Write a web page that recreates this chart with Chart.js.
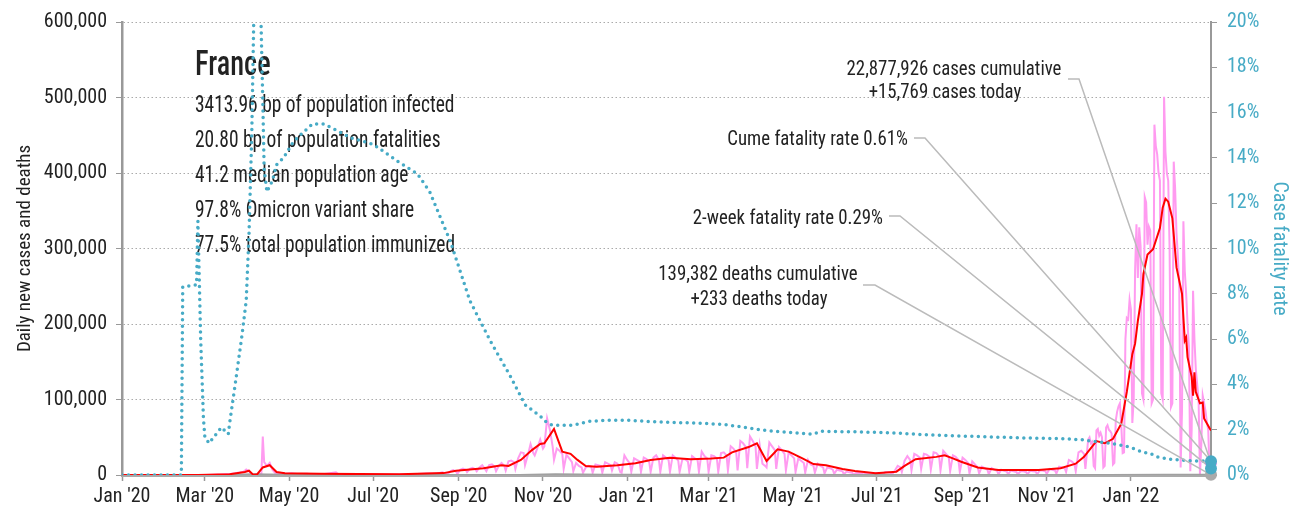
<!DOCTYPE html>
<html>
<head>
<meta charset="utf-8">
<script src="https://cdn.jsdelivr.net/npm/chart.js@4.4.1/dist/chart.umd.min.js"></script>
<style>html,body{margin:0;padding:0;background:#fff}</style>
</head>
<body>
<canvas id="chart" width="1291" height="518"></canvas>
<script>
// ---- data ----
const countryName = 'France'
const infoLines = [
  '3413.96 bp of population infected',
  '20.80 bp of population fatalities',
  '41.2 median population age',
  '97.8% Omicron variant share',
  '77.5% total population immunized'
]
const lastDate = '2022-02-28'
const cumCases = 22877926, todayCases = 15769
const cumDeaths = 139382, todayDeaths = 233
const cumeCfr = 0.61, twoWeekCfr = 0.29

const tickDates = ['2020-01-01','2020-03-01','2020-05-01','2020-07-01','2020-09-01','2020-11-01',
  '2021-01-01','2021-03-01','2021-05-01','2021-07-01','2021-09-01','2021-11-01','2022-01-01']
const tickLabels = ["Jan '20","Mar '20","May '20","Jul '20","Sep '20","Nov '20",
  "Jan '21","Mar '21","May '21","Jul '21","Sep '21","Nov '21","Jan '22"]

// daily new cases, thousands
const newCasesK = [
  ['2020-01-01',0],['2020-02-26',0],['2020-03-02',0.1],['2020-03-07',0.3],['2020-03-11',0.5],['2020-03-14',0.9],
  ['2020-03-17',1.2],['2020-03-20',1.6],['2020-03-23',2.4],['2020-03-26',3.2],['2020-03-29',4.4],['2020-03-31',7.2],
  ['2020-04-02',4.8],['2020-04-04',1],['2020-04-06',0],['2020-04-09',0.5],['2020-04-11',2],['2020-04-12',51],
  ['2020-04-13',17],['2020-04-15',12],['2020-04-17',16],['2020-04-19',7],['2020-04-21',2.5],['2020-04-25',2],
  ['2020-04-29',1.5],['2020-05-03',2.2],['2020-05-08',1],['2020-05-14',1.5],['2020-05-20',0.5],['2020-05-27',1.2],
  ['2020-06-04',3.5],['2020-06-06',0.6],['2020-06-14',1],['2020-06-21',0.5],['2020-06-28',0.8],['2020-07-05',0.5],
  ['2020-07-12',0.8],['2020-07-19',0.6],['2020-07-26',1.1],['2020-08-02',1.4],['2020-08-09',2],['2020-08-16',1.8],
  ['2020-08-20',3.5],
  ['2020-08-24',1.5],['2020-08-26',5],['2020-08-28',6.5],['2020-08-30',4.5],
  ['2020-08-31',1.5],['2020-09-02',7],['2020-09-04',8.5],['2020-09-06',7],
  ['2020-09-07',4],['2020-09-09',8],['2020-09-11',9.5],['2020-09-13',7.5],
  ['2020-09-14',5],['2020-09-16',10],['2020-09-18',13],['2020-09-20',8],
  ['2020-09-21',5],['2020-09-23',13],['2020-09-25',14],['2020-09-27',11],
  ['2020-09-28',5],['2020-09-30',12],['2020-10-02',16],['2020-10-04',12],
  ['2020-10-05',6],['2020-10-07',18],['2020-10-09',19],['2020-10-11',17],
  ['2020-10-12',8],['2020-10-14',22],['2020-10-16',30],['2020-10-18',29],
  ['2020-10-19',13],['2020-10-21',26],['2020-10-23',41],['2020-10-25',29],
  ['2020-10-26',26],['2020-10-28',36],['2020-10-30',47],['2020-11-01',35],
  ['2020-11-02',38],['2020-11-04',75],['2020-11-06',60],['2020-11-08',38],
  ['2020-11-09',20],['2020-11-11',35],['2020-11-13',32],['2020-11-15',28],
  ['2020-11-16',8],['2020-11-18',27],['2020-11-20',22],['2020-11-22',17],
  ['2020-11-23',5],['2020-11-25',16],['2020-11-27',12],['2020-11-29',10],
  ['2020-11-30',3],['2020-12-02',10],['2020-12-04',12],['2020-12-06',11],
  ['2020-12-07',3],['2020-12-09',14],['2020-12-11',13],['2020-12-13',12],
  ['2020-12-14',3],['2020-12-16',17],['2020-12-18',15],['2020-12-20',13],
  ['2020-12-21',6],['2020-12-23',17],['2020-12-25',15],['2020-12-27',4],
  ['2020-12-28',3],['2020-12-30',26],['2021-01-01',20],['2021-01-03',15],
  ['2021-01-04',4],['2021-01-06',22],['2021-01-08',20],['2021-01-10',18],
  ['2021-01-11',4],['2021-01-13',23],['2021-01-15',21],['2021-01-17',17],
  ['2021-01-18',4],['2021-01-20',23],['2021-01-22',26],['2021-01-24',20],
  ['2021-01-25',4],['2021-01-27',26],['2021-01-29',23],['2021-01-31',20],
  ['2021-02-01',4],['2021-02-03',26],['2021-02-05',23],['2021-02-07',19],
  ['2021-02-08',4],['2021-02-10',21],['2021-02-12',21],['2021-02-14',18],
  ['2021-02-15',4],['2021-02-17',25],['2021-02-19',22],['2021-02-21',20],
  ['2021-02-22',4],['2021-02-24',31],['2021-02-26',25],['2021-02-28',22],
  ['2021-03-01',4],['2021-03-03',26],['2021-03-05',25],['2021-03-07',22],
  ['2021-03-08',4],['2021-03-10',29],['2021-03-12',30],['2021-03-14',26],
  ['2021-03-15',6],['2021-03-17',38],['2021-03-19',35],['2021-03-21',30],
  ['2021-03-22',6],['2021-03-24',45],['2021-03-26',42],['2021-03-28',37],
  ['2021-03-29',9],['2021-03-31',51],['2021-04-02',45],['2021-04-04',38],
  ['2021-04-05',8],['2021-04-07',40],['2021-04-09',15],['2021-04-11',12],
  ['2021-04-12',10],['2021-04-14',43],['2021-04-16',38],['2021-04-18',33],
  ['2021-04-19',8],['2021-04-21',37],['2021-04-23',33],['2021-04-25',28],
  ['2021-04-26',6],['2021-04-28',30],['2021-04-30',26],['2021-05-02',22],
  ['2021-05-03',4],['2021-05-05',22],['2021-05-07',19],['2021-05-09',16],
  ['2021-05-10',3],['2021-05-12',20],['2021-05-14',14],['2021-05-16',12],
  ['2021-05-17',3],['2021-05-19',15],['2021-05-21',12],['2021-05-23',10],
  ['2021-05-24',2],['2021-05-26',10],['2021-05-28',9],['2021-05-30',7],
  ['2021-05-31',1.5],['2021-06-02',7],['2021-06-04',6],['2021-06-06',5],
  ['2021-06-07',1],['2021-06-09',4.5],['2021-06-11',3.5],['2021-06-13',3],
  ['2021-06-14',0.5],['2021-06-16',3],['2021-06-18',2.5],['2021-06-20',2],
  ['2021-06-21',0.4],['2021-06-23',2.5],['2021-06-25',2],['2021-06-27',1.8],
  ['2021-06-28',0.5],['2021-06-30',2.5],['2021-07-02',2.5],['2021-07-04',2],
  ['2021-07-05',0.6],['2021-07-07',4],['2021-07-09',3.5],['2021-07-11',3],
  ['2021-07-12',1],['2021-07-14',6],['2021-07-16',12],['2021-07-18',10],
  ['2021-07-19',4],['2021-07-21',19],['2021-07-23',25],['2021-07-25',20],
  ['2021-07-26',6],['2021-07-28',28],['2021-07-30',26],['2021-08-01',23],
  ['2021-08-02',8],['2021-08-04',28],['2021-08-06',27],['2021-08-08',24],
  ['2021-08-09',7],['2021-08-11',30],['2021-08-13',29],['2021-08-15',25],
  ['2021-08-16',6],['2021-08-18',32],['2021-08-20',28],['2021-08-22',24],
  ['2021-08-23',5],['2021-08-25',26],['2021-08-27',24],['2021-08-29',20],
  ['2021-08-30',4],['2021-09-01',23],['2021-09-03',20],['2021-09-05',16],
  ['2021-09-06',2],['2021-09-08',18],['2021-09-10',14],['2021-09-12',10],
  ['2021-09-13',2],['2021-09-15',11],['2021-09-17',9],['2021-09-19',7],
  ['2021-09-20',1],['2021-09-22',9],['2021-09-24',7],['2021-09-26',5.5],
  ['2021-09-27',1],['2021-09-29',7],['2021-10-01',5.5],['2021-10-03',4.5],
  ['2021-10-04',1],['2021-10-06',6],['2021-10-08',5],['2021-10-10',4],
  ['2021-10-11',1],['2021-10-13',5],['2021-10-15',5],['2021-10-17',4],
  ['2021-10-18',1],['2021-10-20',5.5],['2021-10-22',5],['2021-10-24',4.5],
  ['2021-10-25',1],['2021-10-27',6],['2021-10-29',6],['2021-10-31',5],
  ['2021-11-01',1.5],['2021-11-03',8],['2021-11-05',7],['2021-11-07',6],
  ['2021-11-08',2],['2021-11-10',11],['2021-11-12',10],['2021-11-14',9],
  ['2021-11-15',4],['2021-11-17',20],['2021-11-19',18],['2021-11-21',15],
  ['2021-11-22',5],['2021-11-24',30],['2021-11-26',32],['2021-11-28',28],
  ['2021-11-29',8],
  ['2021-12-01',47],['2021-12-02',50],['2021-12-03',42],['2021-12-04',44],['2021-12-05',12],['2021-12-06',9],
  ['2021-12-07',59],['2021-12-08',61],['2021-12-09',52],['2021-12-10',56],['2021-12-11',50],['2021-12-12',10],
  ['2021-12-13',12],['2021-12-14',63],['2021-12-15',66],['2021-12-16',60],['2021-12-17',58],['2021-12-18',55],
  ['2021-12-19',14],['2021-12-20',16],['2021-12-21',72],['2021-12-22',84],['2021-12-23',91],['2021-12-24',95],
  ['2021-12-25',65],['2021-12-26',29],['2021-12-27',30],['2021-12-28',180],['2021-12-29',208],['2021-12-30',206],
  ['2021-12-31',232],['2022-01-01',219],['2022-01-02',69],['2022-01-03',100],['2022-01-04',271],['2022-01-05',332],
  ['2022-01-06',261],['2022-01-07',328],['2022-01-08',303],['2022-01-09',108],['2022-01-10',100],['2022-01-11',368],
  ['2022-01-12',361],['2022-01-13',305],['2022-01-14',329],['2022-01-15',324],['2022-01-16',95],['2022-01-17',100],
  ['2022-01-18',464],['2022-01-19',436],['2022-01-20',425],['2022-01-21',400],['2022-01-22',390],['2022-01-23',108],
  ['2022-01-24',100],['2022-01-25',501],['2022-01-26',428],['2022-01-27',400],['2022-01-28',390],['2022-01-29',300],
  ['2022-01-30',90],['2022-01-31',95],['2022-02-01',415],['2022-02-02',380],['2022-02-03',320],['2022-02-04',290],
  ['2022-02-05',250],['2022-02-06',10],['2022-02-07',85],['2022-02-08',336],['2022-02-09',270],['2022-02-10',240],
  ['2022-02-11',200],['2022-02-12',170],['2022-02-13',5],['2022-02-14',60],['2022-02-15',244],['2022-02-16',180],
  ['2022-02-17',140],['2022-02-18',120],['2022-02-19',100],['2022-02-20',0],['2022-02-21',40],['2022-02-22',105],
  ['2022-02-23',95],['2022-02-24',85],['2022-02-25',70],['2022-02-26',60],['2022-02-27',0],['2022-02-28',15.769]
]

// 7-day average of new cases, thousands
const casesAvgK = [
  ['2020-01-01',0],['2020-02-25',0],['2020-03-19',1],['2020-03-30',4],['2020-04-02',5.7],['2020-04-05',0.5],
  ['2020-04-08',1],['2020-04-12',10],['2020-04-17',13],['2020-04-22',4],['2020-04-28',2.2],['2020-05-23',1.5],
  ['2020-07-20',1],['2020-08-21',2.5],['2020-08-30',5.7],['2020-09-19',9],['2020-10-02',13],['2020-10-07',12],
  ['2020-10-16',20],['2020-10-24',33],['2020-10-30',41],['2020-11-02',42],['2020-11-09',61],['2020-11-15',31],
  ['2020-11-21',28],['2020-11-26',20],['2020-12-02',12],['2020-12-10',11],['2020-12-25',13],['2021-01-07',15.5],
  ['2021-01-18',20],['2021-02-01',23],['2021-02-16',21],['2021-03-03',22],['2021-03-12',23],['2021-03-18',30],
  ['2021-03-30',37],['2021-04-05',42],['2021-04-12',18.5],['2021-04-20',34],['2021-04-28',31],['2021-05-08',22],
  ['2021-05-16',14.5],['2021-05-25',13],['2021-06-06',8],['2021-06-15',5.3],['2021-06-30',2.2],['2021-07-15',4.4],
  ['2021-07-21',12],['2021-07-29',21],['2021-08-13',24],['2021-08-19',26],['2021-08-25',22],['2021-08-31',17.6],
  ['2021-09-12',10],['2021-09-27',6.6],['2021-10-26',6.6],['2021-11-11',9],['2021-11-22',15],['2021-11-28',24],
  ['2021-12-07',45],['2021-12-13',42],['2021-12-19',48],['2021-12-25',68],['2021-12-29',110],['2022-01-02',160],
  ['2022-01-04',174],['2022-01-06',204],['2022-01-09',240],['2022-01-10',266],['2022-01-13',292],['2022-01-17',299],
  ['2022-01-22',327],['2022-01-24',354],['2022-01-26',366],['2022-01-28',362],['2022-01-31',340],['2022-02-03',275],
  ['2022-02-07',240],['2022-02-09',178],['2022-02-10',182],['2022-02-11',156],['2022-02-14',130],['2022-02-15',105],
  ['2022-02-16',136],['2022-02-17',110],['2022-02-20',95],['2022-02-22',96],['2022-02-23',75],['2022-02-27',62],
  ['2022-02-28',59]
]

// daily deaths, thousands (sits on the baseline at this scale)
const newDeathsK = [
  ['2020-01-01',0],['2020-03-15',0.1],['2020-04-05',1],['2020-04-15',0.8],['2020-05-15',0.1],['2020-08-01',0.02],
  ['2020-10-15',0.15],['2020-11-10',0.9],['2020-12-15',0.4],['2021-02-15',0.4],['2021-04-15',0.35],['2021-06-15',0.05],
  ['2021-08-20',0.12],['2021-10-15',0.03],['2021-12-15',0.15],['2022-01-25',0.3],['2022-02-28',0.233]
]

// case fatality rate, percent
const fatalityRate = [
  ['2020-01-01',0],['2020-02-13',0],['2020-02-14',8.3],['2020-02-24',8.4],['2020-02-25',11.2],['2020-02-27',6],
  ['2020-02-29',2.5],['2020-03-01',1.7],['2020-03-04',1.4],['2020-03-13',2.1],['2020-03-18',1.8],['2020-03-19',2.3],
  ['2020-03-23',4],['2020-03-28',6.2],['2020-03-31',7.7],['2020-04-02',10.6],['2020-04-04',15],['2020-04-06',22],
  ['2020-04-10',22],['2020-04-12',16.5],['2020-04-13',13.5],['2020-04-15',12.5],['2020-04-19',13],['2020-04-22',13.7],
  ['2020-04-27',14],['2020-04-30',14.3],['2020-05-04',14.7],['2020-05-09',15],['2020-05-18',15.5],['2020-05-26',15.5],
  ['2020-06-02',15.3],['2020-06-14',14.9],['2020-07-01',14.6],['2020-07-20',13.8],['2020-08-02',13.3],['2020-08-11',12.5],
  ['2020-08-26',10.3],['2020-09-09',7.7],['2020-09-24',5.9],['2020-10-08',4.4],['2020-10-19',3.1],['2020-10-30',2.6],
  ['2020-11-04',2.3],['2020-11-08',2.2],['2020-11-23',2.2],['2020-12-05',2.37],['2020-12-17',2.42],['2021-01-01',2.42],
  ['2021-01-23',2.34],['2021-02-15',2.3],['2021-03-11',2.24],['2021-03-22',2.15],['2021-04-09',1.98],['2021-05-04',1.85],
  ['2021-05-16',1.8],['2021-05-21',1.93],['2021-06-21',1.9],['2021-07-15',1.85],['2021-08-08',1.77],['2021-09-01',1.72],
  ['2021-09-26',1.67],['2021-10-20',1.63],['2021-11-13',1.6],['2021-11-27',1.55],['2021-12-17',1.4],['2021-12-26',1.3],
  ['2021-12-31',1.23],['2022-01-10',1.0],['2022-01-15',0.95],['2022-01-20',0.8],['2022-01-29',0.7],['2022-02-15',0.62],
  ['2022-02-28',0.61]
]

// ---- chart ----
const FONT = "'Liberation Sans Narrow', 'Roboto Condensed', 'DejaVu Sans Condensed', sans-serif"
const INK = '#222', TEAL = '#47abc6', PINK = '#ff9bf0', RED = '#ff0000', GREY = '#a0a0a0'

Chart.defaults.font.family = FONT
Chart.defaults.font.size = 20
Chart.defaults.color = INK

const toDay = s => (Date.parse(s) - Date.parse('2020-01-01')) / 864e5
const lastDay = toDay(lastDate)
const pts = (arr, k) => arr.map(([d, v]) => ({ x: toDay(d), y: v * k }))
const fmt = n => n.toLocaleString('en-US')

const marker = (value, color, axis, order) => ({
  data: [{ x: lastDay, y: value }], yAxisID: axis, showLine: false, marker: true, clip: false,
  pointRadius: 6, pointBorderWidth: 0, pointBackgroundColor: color, order
})

// the reference face is tighter than what is installed, so squeeze horizontally
function narrowText(ctx, str, x, y, align, sx) {
  ctx.save()
  ctx.translate(x, y)
  ctx.scale(sx, 1)
  ctx.textAlign = align
  ctx.fillText(str, 0, 0)
  ctx.restore()
}

let linesDone = false
const overlay = {
  id: 'overlay',
  beforeDatasetsDraw(chart) {
    const ctx = chart.ctx
    ctx.save()
    ctx.fillStyle = INK
    ctx.textBaseline = 'alphabetic'
    ctx.font = '500 35px ' + FONT
    narrowText(ctx, countryName, 195, 75, 'left', 0.81)
    ctx.font = '23px ' + FONT
    infoLines.forEach((t, i) => narrowText(ctx, t, 195, 112 + i * 35, 'left', 0.845))
    ctx.restore()
    linesDone = false
  },
  beforeDatasetDraw(chart, args) {
    if (linesDone || !chart.data.datasets[args.index].marker) return
    linesDone = true
    const { ctx, scales } = chart
    const ex = scales.x.getPixelForValue(lastDay)
    const conns = [
      [1068, 79, 1079, scales.y.getPixelForValue(todayCases)],
      [914, 138, 925, scales.y1.getPixelForValue(cumeCfr)],
      [889, 216, 900, scales.y1.getPixelForValue(twoWeekCfr)],
      [863, 285, 875, scales.y.getPixelForValue(todayDeaths)]
    ]
    ctx.save()
    ctx.strokeStyle = '#bbb'
    ctx.lineWidth = 1.5
    conns.forEach(([x0, y0, x1, ey]) => {
      ctx.beginPath()
      ctx.moveTo(x0, y0)
      ctx.lineTo(x1, y0)
      ctx.lineTo(ex, ey)
      ctx.stroke()
    })
    ctx.restore()
  },
  afterDatasetsDraw(chart) {
    const ctx = chart.ctx
    const sx = 0.94
    ctx.save()
    ctx.fillStyle = INK
    ctx.font = '20px ' + FONT
    ctx.textBaseline = 'alphabetic'
    narrowText(ctx, fmt(cumCases) + ' cases cumulative', 954, 75, 'center', sx)
    narrowText(ctx, '+' + fmt(todayCases) + ' cases today', 945, 98, 'center', sx)
    narrowText(ctx, fmt(cumDeaths) + ' deaths cumulative', 758, 280, 'center', sx)
    narrowText(ctx, '+' + fmt(todayDeaths) + ' deaths today', 759, 305, 'center', sx)
    narrowText(ctx, 'Cume fatality rate ' + cumeCfr.toFixed(2) + '%', 908, 145, 'right', sx)
    narrowText(ctx, '2-week fatality rate ' + twoWeekCfr.toFixed(2) + '%', 883, 224, 'right', sx)
    ctx.restore()
  }
}

new Chart(document.getElementById('chart'), {
  type: 'line',
  data: {
    datasets: [
      { data: pts(newCasesK, 1000), borderColor: PINK, borderWidth: 2, order: 9 },
      { data: pts(newDeathsK, 1000), borderColor: GREY, borderWidth: 2, order: 8 },
      { data: pts(casesAvgK, 1000), borderColor: RED, borderWidth: 2, order: 7 },
      { data: pts(fatalityRate, 1), borderColor: TEAL, borderWidth: 3.5, borderDash: [0, 6.5],
        borderCapStyle: 'round', yAxisID: 'y1', order: 6 },
      marker(todayDeaths, '#aaa', 'y', 5),
      marker(todayCases, PINK, 'y', 4),
      marker(twoWeekCfr, TEAL, 'y1', 3),
      marker(cumeCfr, TEAL, 'y1', 2)
    ]
  },
  options: {
    responsive: false,
    animation: false,
    devicePixelRatio: 1,
    layout: { padding: { top: 20 } },
    elements: { point: { radius: 0 }, line: { tension: 0 } },
    plugins: { legend: { display: false }, tooltip: { enabled: false } },
    scales: {
      x: {
        type: 'linear', min: 0, max: lastDay,
        afterBuildTicks: s => { s.ticks = tickDates.map(d => ({ value: toDay(d) })) },
        ticks: { autoSkip: false, maxRotation: 0, padding: 4, callback: (v, i) => tickLabels[i] },
        grid: { drawOnChartArea: false, tickLength: 6, tickColor: '#999', tickWidth: 1.5 },
        border: { color: '#aaa', width: 3 },
        afterFit: s => { s.height = 43 }
      },
      y: {
        position: 'left', min: 0, max: 600000,
        ticks: { stepSize: 100000, padding: 9, callback: v => fmt(v) },
        grid: { color: '#aaa', lineWidth: 1, tickColor: '#999', tickLength: 6, tickBorderDash: [] },
        border: { color: '#999', width: 2.5, dash: [1.5, 2.5] },
        title: { display: true, text: 'Daily new cases and deaths', font: { size: 19 }, padding: { top: 14, bottom: 0 } },
        afterFit: s => { s.width = 122 }
      },
      y1: {
        position: 'right', min: 0, max: 20,
        ticks: { stepSize: 2, padding: 10, color: TEAL, callback: v => v + '%' },
        grid: { drawOnChartArea: false, tickColor: '#999', tickLength: 6 },
        border: { color: '#999', width: 2 },
        title: { display: true, text: 'Case fatality rate', color: TEAL, padding: { top: 0, bottom: 0 } },
        afterFit: s => { s.width = 80 }
      }
    }
  },
  plugins: [overlay]
})
</script>
</body>
</html>
